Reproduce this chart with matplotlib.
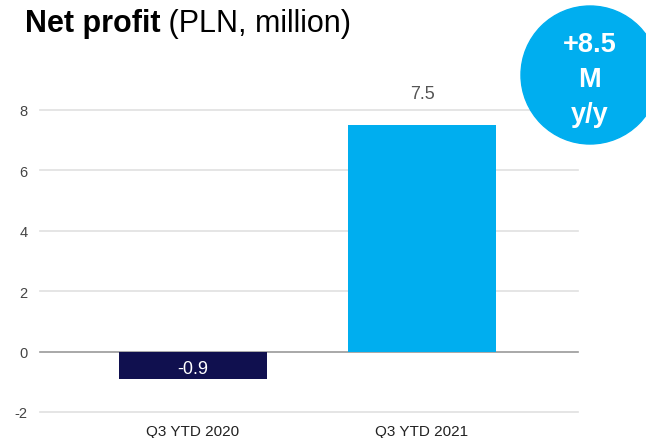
import matplotlib
matplotlib.use('Agg')

import matplotlib.pyplot as plt
from matplotlib.patches import Ellipse

periods = ['Q3 YTD 2020', 'Q3 YTD 2021']
profit = [-0.9, 7.5]
bar_colors = ['#10104f', '#00aeef']
yticks = [-2, 0, 2, 4, 6, 8]
change_text = '+8.5\nM\ny/y'

plt.rcParams['font.family'] = ['Liberation Sans', 'DejaVu Sans']

W, H = 646, 439
fig = plt.figure(figsize=(W / 100, H / 100), dpi=100)
ax = fig.add_axes([40 / W, 1 - 413 / H, 538 / W, 302 / H])

x = list(range(len(periods)))
ax.bar(x, profit, width=0.646, color=bar_colors, zorder=3)

ax.set_xlim(-0.668, 1.681)
ax.set_ylim(-2, 8)
ax.set_yticks(yticks)
ax.set_yticklabels([str(t) for t in yticks], fontsize=10.5, color='#444444')
ax.set_xticks(x)
ax.set_xticklabels(periods, fontsize=11, color='#222222')
ax.tick_params(axis='both', length=0)
ax.tick_params(axis='y', pad=9)
ax.tick_params(axis='x', pad=8.5)
for s in ax.spines.values():
    s.set_visible(False)
for t in yticks:
    ax.axhline(t, color='#999999' if t == 0 else '#e0e0e0', lw=1.2, zorder=1,
               clip_on=False)

# value labels
ax.text(0, profit[0] / 2 - 0.1, f'{profit[0]:.1f}', ha='center', va='center',
        color='white', fontsize=13, zorder=4)
ax.text(1, profit[1] + 1.05, f'{profit[1]:.1f}', ha='center', va='center',
        color='#555555', fontsize=13, clip_on=False)

# title: bold part + regular part
t1 = fig.text(25 / W, 1 - 32 / H, 'Net profit', fontsize=22, fontweight='bold',
              ha='left', va='baseline', color='black')
fig.canvas.draw()
ext = t1.get_window_extent()
fig.text(ext.x1 / W, 1 - 32 / H, ' (PLN, million)', fontsize=22,
         ha='left', va='baseline', color='black')

# y/y change badge (circle, runs off the right edge)
badge = Ellipse((590 / W, 1 - 76 / H), 138 / W, 138 / H, transform=fig.transFigure,
                color='#00aeef', zorder=5)
fig.patches.append(badge)
fig.text(590 / W, 1 - 80 / H, change_text, ha='center', va='center',
         color='white', fontsize=19.5, fontweight='bold', linespacing=1.45, zorder=6)

fig.savefig('out.png', dpi=100)
